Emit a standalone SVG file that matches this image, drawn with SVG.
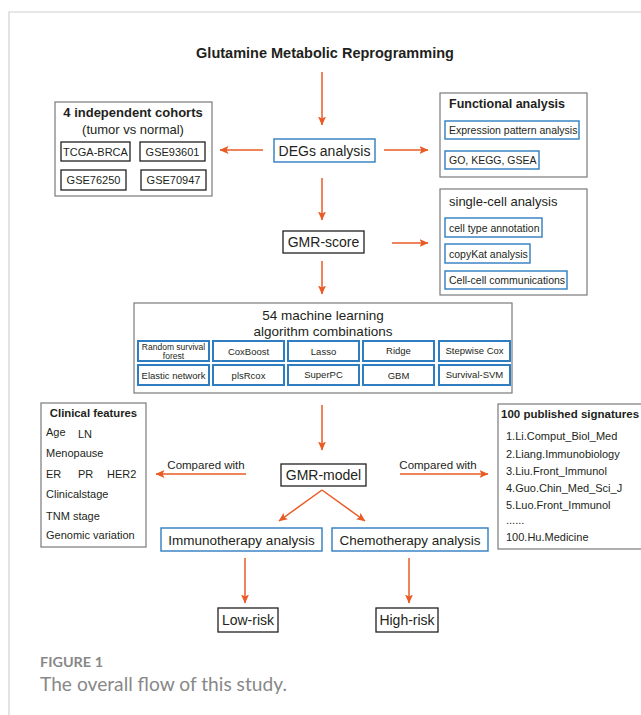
<svg xmlns="http://www.w3.org/2000/svg" width="641" height="715" viewBox="0 0 641 715">
<defs>
<marker id="ah" markerWidth="9" markerHeight="9" refX="8.5" refY="4.5" orient="auto" markerUnits="userSpaceOnUse">
<path d="M0,0.5 L9,4.5 L0,8.5 L2,4.5 z" fill="#EA5A24"/>
</marker>
<style>
text{font-family:"Liberation Sans",Arial,sans-serif;fill:#231f20}
.gray{fill:#fff;stroke:#7a7a7a;stroke-width:1.2}
.blk{fill:#fff;stroke:#231f20;stroke-width:1.3}
.blu{fill:#fff;stroke:#2e7dc1;stroke-width:1.4}
.blu2{fill:#fff;stroke:#2e7dc1;stroke-width:2}
.arr{stroke:#EA5A24;stroke-width:1.5;fill:none;marker-end:url(#ah)}
.c{text-anchor:middle}
.b{font-weight:bold}
.s14{font-size:14px}
.s13{font-size:13px}
.s11{font-size:11px}
.s105{font-size:10.5px}
.s9{font-size:9.5px}
.cap{font-family:Lato,"Open Sans",sans-serif;fill:#888}
</style>
</defs>
<rect width="641" height="715" fill="#fff"/>
<path d="M9,715 V12 H641" fill="none" stroke="#d0d0d0" stroke-width="1.2"/>

<g id="title"><text x="325" y="58" class="c b s14" style="font-size:14.5px">Glutamine Metabolic Reprogramming</text></g>

<g id="cohorts">
<rect class="gray" x="55" y="102" width="157" height="94"/>
<text x="133" y="117" class="c b s13">4 independent cohorts</text>
<text x="133" y="134" class="c s13">(tumor vs normal)</text>
<rect class="blk" x="61" y="142" width="69" height="19"/>
<text x="95.5" y="155.5" class="c s11">TCGA-BRCA</text>
<rect class="blk" x="140" y="142" width="65" height="19"/>
<text x="172.5" y="155.5" class="c s11">GSE93601</text>
<rect class="blk" x="61" y="170" width="65" height="20"/>
<text x="93.5" y="184" class="c s11">GSE76250</text>
<rect class="blk" x="141" y="170" width="65" height="20"/>
<text x="173.5" y="184" class="c s11">GSE70947</text>
</g>

<g id="degs">
<rect class="blu" x="274" y="139" width="101" height="23"/>
<text x="324.5" y="155.5" class="c s14">DEGs analysis</text>
</g>

<g id="functional">
<rect class="gray" x="440" y="93" width="147" height="84"/>
<text x="449" y="108" class="b" style="font-size:12.5px">Functional analysis</text>
<rect class="blu" x="445" y="121" width="134" height="18"/>
<text x="449" y="134" class="s105">Expression pattern analysis</text>
<rect class="blu" x="445" y="151" width="94" height="18"/>
<text x="449" y="164" class="s105">GO, KEGG, GSEA</text>
</g>

<g id="gmrscore">
<rect class="blk" x="283" y="231" width="81" height="22"/>
<text x="323.5" y="247" class="c s14">GMR-score</text>
</g>

<g id="singlecell">
<rect class="gray" x="440" y="189" width="147" height="106"/>
<text x="449" y="206" class="s13">single-cell analysis</text>
<rect class="blu" x="445" y="218" width="97" height="19"/>
<text x="449" y="231.5" class="s105">cell type annotation</text>
<rect class="blu" x="445" y="244" width="85" height="19"/>
<text x="449" y="257.5" class="s105">copyKat analysis</text>
<rect class="blu" x="445" y="271" width="122" height="18"/>
<text x="449" y="284" class="s105">Cell-cell communications</text>
</g>

<g id="ml">
<rect class="gray" x="134" y="303" width="378" height="90"/>
<text x="323" y="320" class="c" style="font-size:13.5px">54 machine learning</text>
<text x="323" y="336" class="c" style="font-size:13.5px">algorithm combinations</text>
<rect class="blu2" x="138" y="341" width="71" height="20"/>
<rect class="blu2" x="213" y="341" width="71" height="20"/>
<rect class="blu2" x="288" y="341" width="71" height="20"/>
<rect class="blu2" x="363" y="341" width="71" height="20"/>
<rect class="blu2" x="439" y="341" width="71" height="20"/>
<rect class="blu2" x="138" y="365" width="71" height="20"/>
<rect class="blu2" x="213" y="365" width="71" height="20"/>
<rect class="blu2" x="288" y="365" width="71" height="20"/>
<rect class="blu2" x="363" y="365" width="71" height="20"/>
<rect class="blu2" x="439" y="365" width="71" height="20"/>
<text x="173.5" y="349.5" class="c" style="font-size:8.5px">Random survival</text>
<text x="173.5" y="358.5" class="c" style="font-size:8.5px">forest</text>
<text x="248.5" y="354.5" class="c s9">CoxBoost</text>
<text x="323.5" y="354.5" class="c s9">Lasso</text>
<text x="398.5" y="354" class="c s9">Ridge</text>
<text x="474.5" y="354" class="c s9">Stepwise Cox</text>
<text x="173.5" y="379" class="c s9">Elastic network</text>
<text x="248.5" y="378.5" class="c s9">plsRcox</text>
<text x="323.5" y="378" class="c s9">SuperPC</text>
<text x="398.5" y="378.5" class="c s9">GBM</text>
<text x="474.5" y="378" class="c s9">Survival-SVM</text>
</g>

<g id="clinical">
<rect class="gray" x="41" y="403" width="105" height="144"/>
<text x="93.5" y="417" class="c b" style="font-size:11.3px">Clinical features</text>
<text x="46" y="436" class="s11">Age</text>
<text x="78" y="438" class="s11">LN</text>
<text x="46" y="457" class="s11">Menopause</text>
<text x="46" y="478" class="s11">ER</text>
<text x="78" y="478" class="s11">PR</text>
<text x="107" y="478" class="s11">HER2</text>
<text x="46" y="498" class="s11">Clinicalstage</text>
<text x="46" y="520" class="s11">TNM stage</text>
<text x="46" y="539" class="s11">Genomic variation</text>
</g>

<g id="gmrmodel">
<rect class="blk" x="281" y="464" width="85" height="22"/>
<text x="323.5" y="480" class="c s14">GMR-model</text>
</g>

<g id="signatures">
<rect class="gray" x="498" y="404" width="150" height="145"/>
<text x="501" y="417.5" class="b" style="font-size:11.5px">100 published signatures</text>
<text x="506" y="440" class="s11">1.Li.Comput_Biol_Med</text>
<text x="506" y="457.5" class="s11">2.Liang.Immunobiology</text>
<text x="506" y="475" class="s11">3.Liu.Front_Immunol</text>
<text x="506" y="492" class="s11">4.Guo.Chin_Med_Sci_J</text>
<text x="506" y="509" class="s11">5.Luo.Front_Immunol</text>
<text x="506" y="524" class="s11">......</text>
<text x="506" y="541" class="s11">100.Hu.Medicine</text>
</g>

<g id="immuno">
<rect class="blu" x="161" y="528" width="161" height="23"/>
<text x="241.5" y="544.5" class="c" style="font-size:13.5px">Immunotherapy analysis</text>
</g>
<g id="chemo">
<rect class="blu" x="332" y="528" width="156" height="23"/>
<text x="410" y="544.5" class="c" style="font-size:13.5px">Chemotherapy analysis</text>
</g>
<g id="lowrisk">
<rect class="blk" x="218" y="608" width="60" height="24"/>
<text x="248" y="625" class="c s14">Low-risk</text>
</g>
<g id="highrisk">
<rect class="blk" x="376" y="608" width="62" height="24"/>
<text x="407" y="625" class="c s14">High-risk</text>
</g>

<g id="connectors">
<line class="arr" x1="322" y1="72" x2="322" y2="125"/>
<line class="arr" x1="263" y1="150" x2="220" y2="150"/>
<line class="arr" x1="384" y1="150" x2="428" y2="150"/>
<line class="arr" x1="322" y1="178" x2="322" y2="220"/>
<line class="arr" x1="392" y1="243" x2="428" y2="243"/>
<line class="arr" x1="322" y1="261" x2="322" y2="294"/>
<line class="arr" x1="322" y1="405" x2="322" y2="450"/>
<line class="arr" x1="246" y1="474" x2="156" y2="474"/>
<line class="arr" x1="400" y1="474" x2="488" y2="474"/>
<line class="arr" x1="322" y1="490" x2="279" y2="521"/>
<line class="arr" x1="322" y1="490" x2="365" y2="521"/>
<line class="arr" x1="245" y1="558" x2="245" y2="603"/>
<line class="arr" x1="409" y1="558" x2="409" y2="603"/>
<text x="206" y="469" class="c" style="font-size:11.5px">Compared with</text>
<text x="438" y="469" class="c" style="font-size:11.5px">Compared with</text>
</g>

<g id="caption">
<text x="40" y="667" class="cap b" style="font-size:14px" textLength="63" lengthAdjust="spacingAndGlyphs">FIGURE 1</text>
<text x="40" y="691" class="cap" style="font-size:19px" textLength="247" lengthAdjust="spacingAndGlyphs">The overall flow of this study.</text>
</g>
</svg>
